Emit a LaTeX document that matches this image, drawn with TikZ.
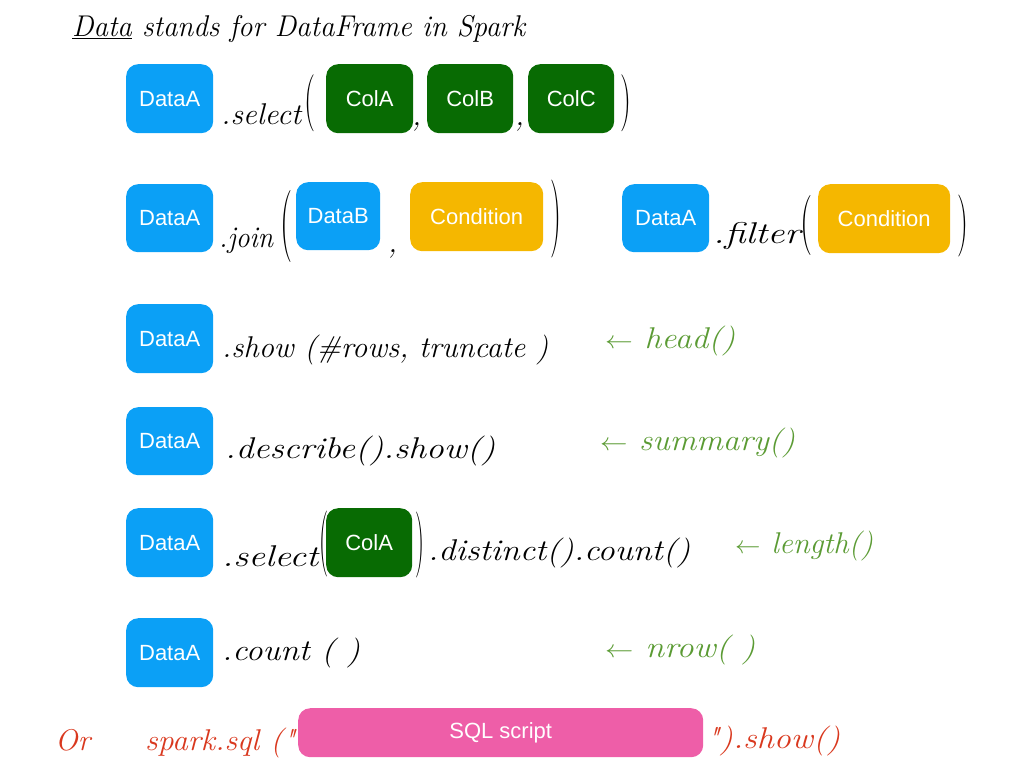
\documentclass[tikz,border=0pt]{standalone}
\usepackage{fontspec}
\usepackage{graphicx}
\newfontfamily\boxfont{Liberation Sans}
\newfontfamily\lmplain{Latin Modern Roman}
\definecolor{sblue}{HTML}{0BA0F6}
\definecolor{sgreen}{HTML}{086B03}
\definecolor{samber}{HTML}{F5B700}
\definecolor{spink}{HTML}{EE5EA8}
\definecolor{hgreen}{HTML}{5B9B34}
\definecolor{hred}{HTML}{D9381E}
\newcommand{\hwfit}[2]{\resizebox{#1pt}{\height}{#2}}
\newcommand{\parfit}[2]{\resizebox*{#1pt}{#2pt}{(}}
\newcommand{\rparfit}[2]{\resizebox*{#1pt}{#2pt}{)}}
\newcommand{\dq}{{\lmplain\itshape"}}
\tikzset{
  box/.style={rounded corners=12pt, anchor=north west, inner sep=0pt, text=white,
    font=\boxfont\fontsize{22}{22}\selectfont},
  bluebox/.style={box, fill=sblue, minimum width=87pt, minimum height=69pt},
  greenbox/.style={box, fill=sgreen},
  amberbox/.style={box, fill=samber},
  pinkbox/.style={box, fill=spink},
  hw/.style={anchor=base west, inner sep=0pt, font=\itshape\fontsize{30}{30}\selectfont},
  hwg/.style={hw, text=hgreen},
  hwr/.style={hw, text=hred},
  par/.style={anchor=north west, inner sep=0pt, font=\fontsize{20}{20}\selectfont},
}
\begin{document}
\begin{tikzpicture}[x=1pt,y=-1pt]
\useasboundingbox (0,0) rectangle (1024,768);
% title
\node[hw] (title) at (72,37) {\hwfit{453}{\underline{Data} stands for DataFrame in Spark}};

% row 1
\node[bluebox] (r1a) at (126,64) {DataA};
\node[hw] (r1sel) at (221,124) {\hwfit{80}{.select}};
\node[par] (r1lp) at (304,75) {\parfit{11}{57}};
\node[greenbox, minimum width=87pt, minimum height=69pt] (r1ca) at (326,64) {ColA};
\node[hw] (r1c1) at (412,125) {,};
\node[greenbox, minimum width=86pt, minimum height=69pt] (r1cb) at (427,64) {ColB};
\node[hw] (r1c2) at (515,125) {,};
\node[greenbox, minimum width=86pt, minimum height=69pt] (r1cc) at (528,64) {ColC};
\node[par] (r1rp) at (620,75) {\rparfit{11}{57}};

% row 2
\node[bluebox, minimum height=68pt] (r2a) at (126,184) {DataA};
\node[hw] (r2join) at (219,247) {\hwfit{54}{.join}};
\node[par] (r2lp) at (280,190) {\parfit{12}{72}};
\node[bluebox, minimum width=84pt, minimum height=68pt] (r2b) at (296,182) {DataB};
\node[hw] (r2c) at (388,252) {,};
\node[amberbox, minimum width=133pt, minimum height=69pt] (r2cond) at (410,182) {Condition};
\node[par] (r2rp) at (550,180) {\rparfit{11}{78}};
\node[bluebox, minimum height=68pt] (r2a2) at (622,184) {DataA};
\node[hw] (r2fil) at (713,243) {\hwfit{87}{.filter}};
\node[par] (r2lp2) at (800,195) {\parfit{12}{60}};
\node[amberbox, minimum width=132pt, minimum height=69pt] (r2cond2) at (818,184) {Condition};
\node[par] (r2rp2) at (957,195) {\rparfit{11}{62}};

% row 3
\node[bluebox] (r3a) at (126,304) {DataA};
\node[hw] (r3t) at (222,357) {\hwfit{326}{.show (\#rows, truncate )}};
\node[hwg] (r3g) at (605,348) {\hwfit{130}{$\leftarrow$ head()}};

% row 4
\node[bluebox, minimum height=68pt] (r4a) at (126,407) {DataA};
\node[hw] (r4t) at (225,458) {\hwfit{270}{.describe().show()}};
\node[hwg] (r4g) at (600,450) {\hwfit{195}{$\leftarrow$ summary()}};

% row 5
\node[bluebox] (r5a) at (126,508) {DataA};
\node[hw] (r5sel) at (222,566) {\hwfit{96}{.select}};
\node[par] (r5lp) at (319,511) {\parfit{9}{66}};
\node[greenbox, minimum width=86pt, minimum height=69pt] (r5ca) at (326,508) {ColA};
\node[par] (r5rp) at (415,512) {\rparfit{9}{66}};
\node[hw] (r5t) at (428,560) {\hwfit{262}{.distinct().count()}};
\node[hwg] (r5g) at (735,553) {\hwfit{138}{$\leftarrow$ length()}};

% row 6
\node[bluebox] (r6a) at (126,618) {DataA};
\node[hw] (r6t) at (222,660) {\hwfit{138}{.count ( )}};
\node[hwg] (r6g) at (605,657) {\hwfit{150}{$\leftarrow$ nrow( )}};

% row 7
\node[hwr] (r7or) at (55,750) {\hwfit{35}{Or}};
\node[hwr] (r7sp) at (145,750) {\hwfit{150}{spark.sql (\dq}};
\node[pinkbox, minimum width=405pt, minimum height=49pt] (r7sql) at (298,708) {SQL script};
\node[hwr] (r7sh) at (706,748) {\hwfit{134}{\dq).show()}};
\end{tikzpicture}
\end{document}
